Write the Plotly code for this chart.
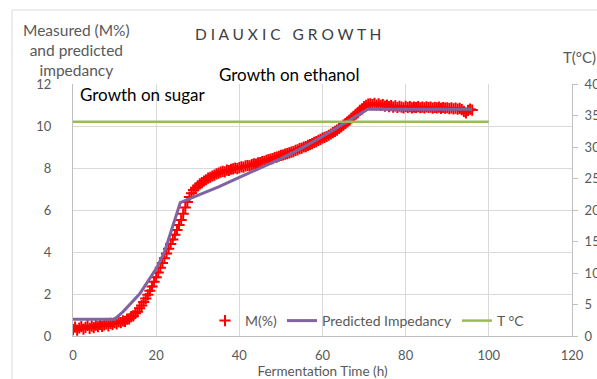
import numpy as np
import plotly.graph_objects as go

# Measured impedancy M(%) sampled every half hour, 0 .. 96 h
m_time = np.arange(0, 96.5, 0.5)
m_values = [
    0.30, 0.42, 0.28, 0.38, 0.45, 0.33, 0.41, 0.50, 0.36, 0.47,
    0.40, 0.52, 0.44, 0.55, 0.46, 0.53, 0.58, 0.48, 0.60, 0.55,
    0.63, 0.58, 0.68, 0.64, 0.72, 0.70, 0.80, 0.82, 0.92, 0.96,
    1.08, 1.15, 1.32, 1.45, 1.62, 1.78, 1.96, 2.15, 2.36, 2.58,
    2.80, 3.02, 3.25, 3.48, 3.70, 3.93, 4.15, 4.38, 4.60, 4.82,
    5.05, 5.28, 5.52, 5.82, 6.12, 6.38, 6.62, 6.80, 6.95, 7.06,
    7.15, 7.24, 7.30, 7.38, 7.44, 7.52, 7.56, 7.62, 7.66, 7.72,
    7.76, 7.80, 7.84, 7.82, 7.90, 7.88, 7.94, 7.96, 8.00, 7.97,
    8.02, 8.06, 8.04, 8.10, 8.12, 8.10, 8.16, 8.20, 8.18, 8.25,
    8.26, 8.30, 8.32, 8.36, 8.40, 8.42, 8.45, 8.50, 8.52, 8.56,
    8.60, 8.62, 8.66, 8.68, 8.72, 8.76, 8.78, 8.84, 8.86, 8.92,
    8.95, 9.00, 9.02, 9.08, 9.12, 9.16, 9.22, 9.26, 9.32, 9.36,
    9.42, 9.46, 9.50, 9.56, 9.62, 9.68, 9.74, 9.80, 9.88, 9.96,
    10.04, 10.12, 10.20, 10.28, 10.38, 10.46, 10.56, 10.64, 10.74, 10.82,
    10.92, 10.98, 11.04, 11.06, 11.02, 11.08, 11.00, 11.05, 10.98, 11.02,
    10.95, 11.00, 10.92, 10.97, 10.90, 10.96, 10.88, 10.94, 10.90, 10.86,
    10.93, 10.88, 10.92, 10.86, 10.90, 10.88, 10.92, 10.87, 10.90, 10.86,
    10.91, 10.88, 10.90, 10.85, 10.89, 10.86, 10.90, 10.84, 10.88, 10.85,
    10.87, 10.83, 10.86, 10.82, 10.85, 10.80, 10.84, 10.78, 10.70, 10.62,
    10.74, 10.80, 10.76,
]

# Predicted impedancy (model), h -> value
pred_time = [0, 10, 12, 14, 16, 18, 20, 22, 24, 25.8,
             30, 35, 40, 45, 50, 55, 60, 65, 70.9, 96]
pred_values = [0.8, 0.8, 1.15, 1.55, 2.0, 2.6, 3.2, 4.0, 5.2, 6.35,
               6.7, 7.1, 7.55, 8.0, 8.45, 8.95, 9.5, 10.1, 10.8, 10.8]

# Fermentation temperature (°C)
temp_time = [0, 100]
temp_values = [34, 34]

x_ticks = [0, 20, 40, 60, 80, 100, 120]
y_ticks = [0, 2, 4, 6, 8, 10, 12]
y2_ticks = [0, 5, 10, 15, 20, 25, 30, 35, 40]

FONT = "Lato"
GRAY = "#595959"
GRID = "#d9d9d9"

# plot-area pixel frame, used to place free text in paper units
L, R, T, B = 73, 572, 84, 336


def px(x):
    return (x - L) / (R - L)


def py(y):
    return (B - y) / (B - T)


fig = go.Figure()
fig.add_trace(go.Scatter(
    x=m_time, y=m_values, mode="markers", name="M(%)",
    marker=dict(symbol="cross-thin", size=8, color="#ff0000",
                line=dict(color="#ff0000", width=2)),
))
fig.add_trace(go.Scatter(
    x=pred_time, y=pred_values, mode="lines", name="Predicted Impedancy",
    line=dict(color="#8064a2", width=3),
))
fig.add_trace(go.Scatter(
    x=temp_time, y=temp_values, mode="lines", name="T °C", yaxis="y2",
    line=dict(color="#9bbb59", width=2.5),
))

fig.update_layout(
    width=597, height=379,
    margin=dict(l=L, r=597 - R, t=T, b=379 - B),
    paper_bgcolor="white", plot_bgcolor="white",
    font=dict(family=FONT, size=13, color=GRAY),
    xaxis=dict(
        range=[0, 120], tickvals=x_ticks, showgrid=True, gridcolor=GRID,
        gridwidth=1, zeroline=False, showline=True, linecolor="#bfbfbf",
        linewidth=1, ticks="", ticklabelstandoff=7, automargin=False,
        tickfont=dict(size=13, color=GRAY),
        title=dict(text="Fermentation Time (h)", standoff=6,
                   font=dict(size=13.5, color=GRAY)),
    ),
    yaxis=dict(
        range=[0, 12], tickvals=y_ticks, showgrid=True, gridcolor=GRID,
        gridwidth=1, zeroline=False, showline=True, linecolor="#bfbfbf",
        linewidth=1, ticks="", ticklabelstandoff=18, automargin=False,
        tickfont=dict(size=13, color=GRAY),
    ),
    yaxis2=dict(
        range=[0, 40], tickvals=y2_ticks, overlaying="y", side="right",
        showgrid=False, zeroline=False, showline=True, linecolor="#bfbfbf",
        linewidth=1, ticks="outside", ticklen=5, tickcolor="#bfbfbf",
        automargin=False, ticklabelstandoff=4,
        tickfont=dict(size=13, color=GRAY),
    ),
    showlegend=True,
    legend=dict(
        orientation="h", x=px(205), y=py(321), xanchor="left",
        yanchor="middle", bgcolor="rgba(0,0,0,0)",
        font=dict(size=14, color=GRAY), itemwidth=30, tracegroupgap=0,
    ),
    shapes=[dict(
        type="rect", xref="paper", yref="paper",
        x0=px(12), x1=px(640), y0=py(420), y1=py(10),
        line=dict(color="#d9d9d9", width=1), fillcolor="rgba(0,0,0,0)",
        layer="below",
    )],
    annotations=[
        dict(text="D I A U X I C   G R O W T H", xref="paper", yref="paper",
             x=px(288), y=py(34), showarrow=False,
             xanchor="center", yanchor="middle",
             font=dict(size=15.5, color="#404040")),
        dict(text="Growth on ethanol", xref="paper", yref="paper",
             x=px(289), y=py(75), showarrow=False,
             xanchor="center", yanchor="middle",
             font=dict(size=17, color="#000000")),
        dict(text="Growth on sugar", xref="paper", yref="paper",
             x=px(78), y=py(95), showarrow=False,
             xanchor="left", yanchor="middle",
             font=dict(size=17, color="#000000")),
        dict(text="Measured (M%)<br>and predicted<br>impedancy",
             xref="paper", yref="paper",
             x=px(76), y=py(50), showarrow=False,
             xanchor="center", yanchor="middle", align="center",
             font=dict(size=15.5, color=GRAY)),
        dict(text="T(°C)", xref="paper", yref="paper",
             x=px(561), y=py(57), showarrow=False,
             xanchor="left", yanchor="middle",
             font=dict(size=15, color=GRAY)),
    ],
)

fig.write_html("out.html")
